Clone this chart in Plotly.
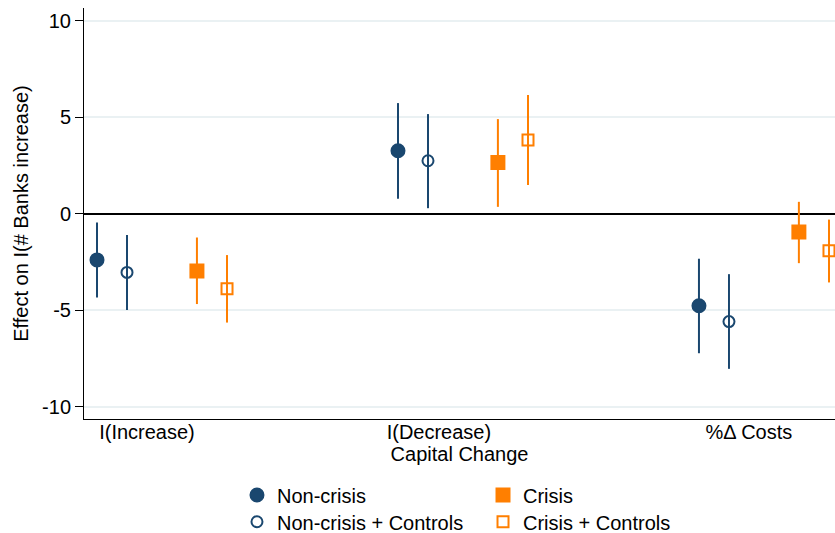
import plotly.graph_objects as go

categories = ["I(Increase)", "I(Decrease)", "%\u0394 Costs"]
group_pos = [0, 1, 2]
label_offset = [0.166, 0.136, 0.166]

series_names = ["Non-crisis", "Crisis", "Non-crisis + Controls", "Crisis + Controls"]
series_offset = [0.0, 0.332, 0.0997, 0.432]

nc_est = [-2.39, 3.27, -4.77]
nc_lo = [-4.34, 0.78, -7.23]
nc_hi = [-0.45, 5.74, -2.33]

cr_est = [-2.96, 2.66, -0.95]
cr_lo = [-4.68, 0.36, -2.56]
cr_hi = [-1.23, 4.91, 0.62]

ncc_est = [-3.04, 2.75, -5.59]
ncc_lo = [-4.99, 0.29, -8.04]
ncc_hi = [-1.10, 5.17, -3.13]

crc_est = [-3.89, 3.82, -1.92]
crc_lo = [-5.64, 1.49, -3.56]
crc_hi = [-2.14, 6.16, -0.30]

y_ticks = [-10, -5, 0, 5, 10]
y_ticktext = ["-10", "-5", "0", "5", "10"]

NAVY = "#1a476f"
ORANGE = "#ff7f00"

ests = [nc_est, cr_est, ncc_est, crc_est]
los = [nc_lo, cr_lo, ncc_lo, crc_lo]
his = [nc_hi, cr_hi, ncc_hi, crc_hi]
colors = [NAVY, ORANGE, NAVY, ORANGE]
symbols = ["circle", "square", "circle-open", "square-open"]
sizes = [13, 13, 11, 11]
legend_ids = ["legend", "legend2", "legend3", "legend4"]

fig = go.Figure()
for name, off, est, lo, hi, col, sym, sz, lg in zip(series_names, series_offset, ests, los, his,
                                                   colors, symbols, sizes, legend_ids):
    xs = [g + off for g in group_pos]
    fig.add_trace(go.Scatter(
        x=xs, y=est, mode="markers", name=name, legend=lg,
        marker=dict(symbol=sym, size=sz, color=col, line=dict(width=2, color=col)),
        error_y=dict(type="data", symmetric=False,
                     array=[h - e for h, e in zip(hi, est)],
                     arrayminus=[e - l for e, l in zip(est, lo)],
                     color=col, thickness=2, width=0),
        cliponaxis=False,
    ))

FONT = "Liberation Sans, Arial, sans-serif"
col_x = [0.2037, 0.5313]
row_y = [-0.1848, -0.2500]


def leg(x, y):
    return dict(x=x, y=y, xanchor="left", yanchor="middle", orientation="v",
                font=dict(family=FONT, size=20, color="black"), bgcolor="rgba(0,0,0,0)",
                borderwidth=0)


fig.update_layout(
    width=835, height=533,
    margin=dict(l=84, r=0, t=8, b=114, autoexpand=False),
    paper_bgcolor="white", plot_bgcolor="white",
    font=dict(family=FONT, size=20, color="black"),
    showlegend=True,
    legend=leg(col_x[0], row_y[0]),
    legend2=leg(col_x[1], row_y[0]),
    legend3=leg(col_x[0], row_y[1]),
    legend4=leg(col_x[1], row_y[1]),
    xaxis=dict(range=[-0.0432, 2.452], tickvals=[g + o for g, o in zip(group_pos, label_offset)],
               ticktext=categories, showgrid=False, zeroline=False,
               showline=True, linecolor="black", linewidth=1, ticks="",
               ticklabelstandoff=-5, tickfont=dict(size=20),
               title=dict(text="Capital Change", standoff=0, font=dict(size=20))),
    yaxis=dict(range=[-10.64, 10.67], tickvals=y_ticks, ticktext=y_ticktext,
               showgrid=True, gridcolor="#eaf1f3", gridwidth=1.5,
               zeroline=True, zerolinecolor="black", zerolinewidth=2,
               showline=True, linecolor="black", linewidth=1,
               ticks="outside", ticklen=8, tickcolor="black", tickfont=dict(size=20),
               title=dict(text="Effect on I(# Banks increase)", standoff=8, font=dict(size=20))),
)
fig.write_html("out.html", config={"displayModeBar": False},
               post_script="document.body.style.margin='0';")
